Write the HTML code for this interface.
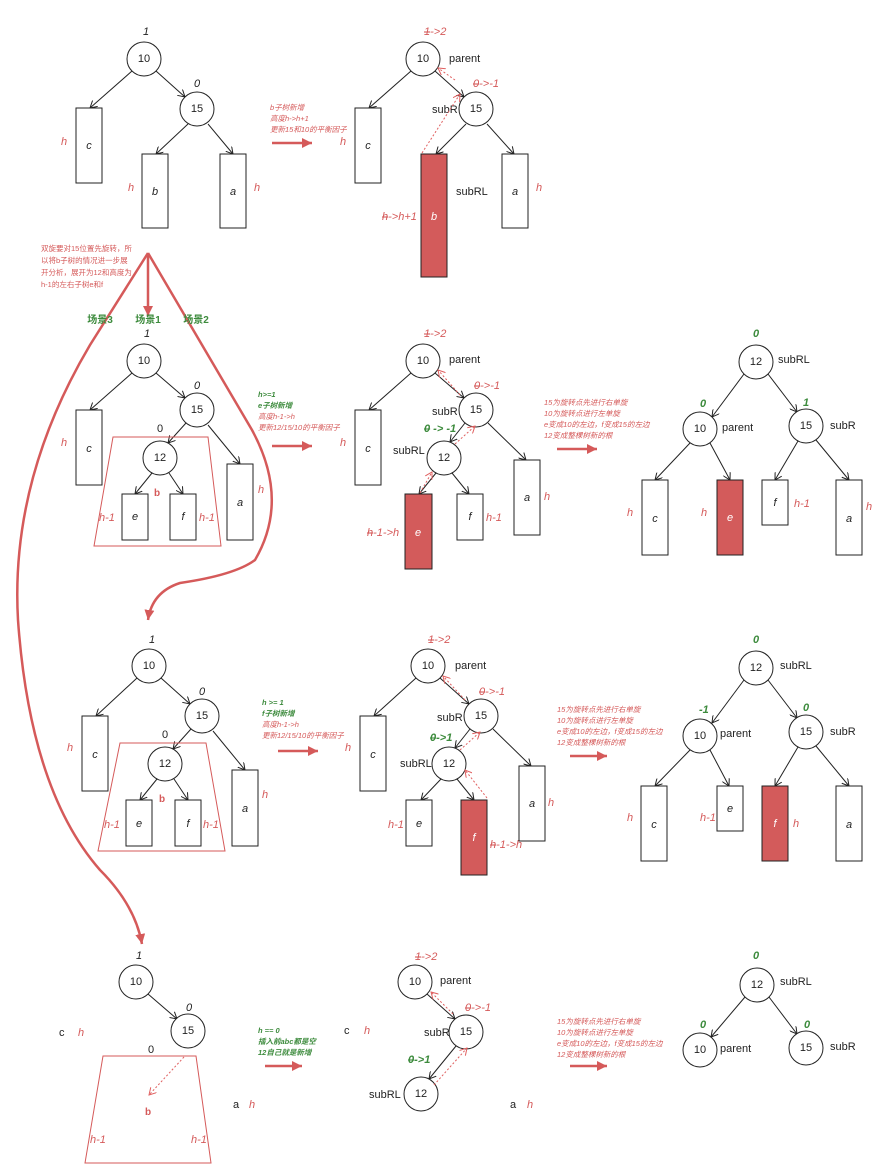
<!DOCTYPE html>
<html><head><meta charset="utf-8"><style>
html,body{margin:0;padding:0;background:#fff}
svg{display:block}
text{font-family:"Liberation Sans","Noto Sans CJK SC",sans-serif}
.n{font-size:11px;fill:#222;text-anchor:middle;dominant-baseline:central}
.l{font-size:11px;fill:#222;dominant-baseline:central}
.i{font-size:11px;fill:#222;font-style:italic;text-anchor:middle;dominant-baseline:central}
.r{font-size:11px;fill:#d55a5a;font-style:italic;dominant-baseline:central}
.g{font-size:11px;fill:#3d8b3d;font-style:italic;font-weight:bold;dominant-baseline:central}
.s{font-size:7.5px;fill:#d55a5a;font-style:italic}
.sg{font-size:7.5px;fill:#3d8b3d;font-style:italic;font-weight:bold}
.sn{font-size:7.5px;fill:#d55a5a}
.gb{font-size:10px;fill:#3d8b3d;font-weight:bold;text-anchor:middle}
circle{fill:#fff;stroke:#222;stroke-width:1}
rect{fill:#fff;stroke:#222;stroke-width:1}
rect.red{fill:#d35b5b}
.e{stroke:#222;stroke-width:1;fill:none;marker-end:url(#a)}
.d{stroke:#e06060;stroke-width:1;stroke-dasharray:2 2;fill:none;marker-end:url(#ad)}
.big{stroke:#d55a5a;stroke-width:2.5;fill:none}
.tr{fill:none;stroke:#d55a5a;stroke-width:1}
</style></head><body>
<svg width="883" height="1175" viewBox="0 0 883 1175" xmlns="http://www.w3.org/2000/svg">
<defs>
<marker id="a" markerWidth="8" markerHeight="8" refX="7" refY="4" orient="auto" markerUnits="userSpaceOnUse"><path d="M0,0 L7,4 L0,8" fill="none" stroke="#222"/></marker>
<marker id="ad" markerWidth="8" markerHeight="8" refX="7" refY="4" orient="auto" markerUnits="userSpaceOnUse"><path d="M0,0 L7,4 L0,8" fill="none" stroke="#e06060"/></marker>
<marker id="ar" markerWidth="12" markerHeight="12" refX="10" refY="5" orient="auto" markerUnits="userSpaceOnUse"><path d="M0,0 L10,5 L0,10 Z" fill="#d55a5a"/></marker>
</defs>

<!-- Row1 tree A -->
<text class="i" x="146" y="32">1</text>
<line class="e" x1="132" y1="71" x2="90" y2="108"/>
<line class="e" x1="156" y1="71" x2="185" y2="97"/>
<circle cx="144" cy="59" r="17"/><text class="n" x="144" y="59">10</text>
<text class="i" x="197" y="84">0</text>
<line class="e" x1="188" y1="124" x2="156" y2="154"/>
<line class="e" x1="208" y1="124" x2="233" y2="154"/>
<circle cx="197" cy="109" r="17"/><text class="n" x="197" y="109">15</text>
<rect x="76" y="108" width="26" height="75"/><text class="i" x="89" y="146">c</text><text class="r" x="61" y="142">h</text>
<rect x="142" y="154" width="26" height="74"/><text class="i" x="155" y="192">b</text><text class="r" x="128" y="188">h</text>
<rect x="220" y="154" width="26" height="74"/><text class="i" x="233" y="192">a</text><text class="r" x="254" y="188">h</text>
<text class="s" x="270" y="110">b子树新增</text><text class="s" x="270" y="121">高度h-&gt;h+1</text><text class="s" x="270" y="132">更新15和10的平衡因子</text>
<line class="big" x1="272" y1="143" x2="312" y2="143" marker-end="url(#ar)"/>

<!-- Row1 tree B -->
<text class="r" x="424" y="32"><tspan text-decoration="line-through">1</tspan>-&gt;2</text>
<line class="e" x1="411" y1="71" x2="369" y2="108"/>
<line class="e" x1="435" y1="71" x2="464" y2="97"/>
<circle cx="423" cy="59" r="17"/><text class="n" x="423" y="59">10</text><text class="l" x="449" y="59">parent</text>
<text class="r" x="473" y="84"><tspan text-decoration="line-through">0</tspan>-&gt;-1</text>
<line class="e" x1="466" y1="124" x2="436" y2="154"/>
<line class="e" x1="487" y1="124" x2="514" y2="154"/>
<circle cx="476" cy="109" r="17"/><text class="n" x="476" y="109">15</text><text class="l" x="432" y="110">subR</text>
<rect x="355" y="108" width="26" height="75"/><text class="i" x="368" y="146">c</text><text class="r" x="340" y="142">h</text>
<rect class="red" x="421" y="154" width="26" height="123"/><text class="i" x="434" y="217" style="fill:#fff">b</text>
<text class="r" x="382" y="217"><tspan text-decoration="line-through">h</tspan>-&gt;h+1</text>
<text class="l" x="456" y="192">subRL</text>
<rect x="502" y="154" width="26" height="74"/><text class="i" x="515" y="192">a</text><text class="r" x="536" y="188">h</text>
<line class="d" x1="422" y1="153" x2="460" y2="94"/>
<line class="d" x1="455" y1="80" x2="438" y2="68"/>

<!-- big red connectors -->
<text class="sn" x="41" y="251">双旋要对15位置先旋转，所</text>
<text class="sn" x="41" y="263">以将b子树的情况进一步展</text>
<text class="sn" x="41" y="275">开分析，展开为12和高度为</text>
<text class="sn" x="41" y="287">h-1的左右子树e和f</text>
<line class="big" x1="148" y1="253" x2="148" y2="316" marker-end="url(#ar)"/>
<path class="big" d="M148,253 L90,345 Q10,480 18,620 Q30,790 100,870 Q135,905 142,944" marker-end="url(#ar)"/>
<path class="big" d="M148,253 L252,430 Q290,500 255,560 Q235,575 180,583 Q152,592 148,620" marker-end="url(#ar)"/>
<text class="gb" x="100" y="323">场景3</text><text class="gb" x="148" y="323">场景1</text><text class="gb" x="196" y="323">场景2</text>

<!-- Row2 tree A -->
<text class="i" x="147" y="334">1</text>
<line class="e" x1="132" y1="373" x2="90" y2="410"/>
<line class="e" x1="156" y1="373" x2="185" y2="398"/>
<circle cx="144" cy="361" r="17"/><text class="n" x="144" y="361">10</text>
<text class="i" x="197" y="386">0</text>
<line class="e" x1="186" y1="423" x2="168" y2="443"/>
<line class="e" x1="208" y1="425" x2="240" y2="464"/>
<circle cx="197" cy="410" r="17"/><text class="n" x="197" y="410">15</text>
<rect x="76" y="410" width="26" height="75"/><text class="i" x="89" y="449">c</text><text class="r" x="61" y="443">h</text>
<polygon class="tr" points="113,437 208,437 221,546 94,546"/>
<text class="n" x="160" y="429">0</text>
<line class="e" x1="152" y1="473" x2="135" y2="494"/>
<line class="e" x1="169" y1="473" x2="183" y2="494"/>
<circle cx="160" cy="458" r="17"/><text class="n" x="160" y="458">12</text>
<text x="157" y="496" style="font-size:10px;fill:#d55a5a;font-weight:bold;text-anchor:middle">b</text>
<rect x="122" y="494" width="26" height="46"/><text class="i" x="135" y="517">e</text><text class="r" x="99" y="518">h-1</text>
<rect x="170" y="494" width="26" height="46"/><text class="i" x="183" y="517">f</text><text class="r" x="199" y="518">h-1</text>
<rect x="227" y="464" width="26" height="76"/><text class="i" x="240" y="503">a</text><text class="r" x="258" y="490">h</text>
<text class="sg" x="258" y="397">h&gt;=1</text><text class="sg" x="258" y="408">e子树新增</text><text class="s" x="258" y="419">高度h-1-&gt;h</text><text class="s" x="258" y="430">更新12/15/10的平衡因子</text>
<line class="big" x1="272" y1="446" x2="312" y2="446" marker-end="url(#ar)"/>

<!-- Row2 tree B -->
<text class="r" x="424" y="334"><tspan text-decoration="line-through">1</tspan>-&gt;2</text>
<line class="e" x1="411" y1="373" x2="369" y2="410"/>
<line class="e" x1="435" y1="373" x2="464" y2="398"/>
<circle cx="423" cy="361" r="17"/><text class="n" x="423" y="361">10</text><text class="l" x="449" y="360">parent</text>
<text class="r" x="474" y="386"><tspan text-decoration="line-through">0</tspan>-&gt;-1</text>
<line class="e" x1="465" y1="423" x2="450" y2="442"/>
<line class="e" x1="488" y1="423" x2="526" y2="460"/>
<circle cx="476" cy="410" r="17"/><text class="n" x="476" y="410">15</text><text class="l" x="432" y="412">subR</text>
<text class="g" x="424" y="429"><tspan text-decoration="line-through">0</tspan> -&gt; -1</text>
<line class="e" x1="436" y1="473" x2="419" y2="494"/>
<line class="e" x1="452" y1="473" x2="469" y2="494"/>
<circle cx="444" cy="458" r="17"/><text class="n" x="444" y="458">12</text><text class="l" x="393" y="451">subRL</text>
<rect x="355" y="410" width="26" height="75"/><text class="i" x="368" y="449">c</text><text class="r" x="340" y="443">h</text>
<rect class="red" x="405" y="494" width="27" height="75"/><text class="i" x="418" y="533" style="fill:#fff">e</text>
<text class="r" x="367" y="533"><tspan text-decoration="line-through">h</tspan>-1-&gt;h</text>
<rect x="457" y="494" width="26" height="46"/><text class="i" x="470" y="517">f</text><text class="r" x="486" y="518">h-1</text>
<rect x="514" y="460" width="26" height="75"/><text class="i" x="527" y="498">a</text><text class="r" x="544" y="497">h</text>
<line class="d" x1="420" y1="493" x2="432" y2="472"/>
<line class="d" x1="455" y1="444" x2="475" y2="426"/>
<line class="d" x1="460" y1="395" x2="438" y2="370"/>
<text class="s" x="544" y="405">15为旋转点先进行右单旋</text><text class="s" x="544" y="416">10为旋转点进行左单旋</text><text class="s" x="544" y="427">e变成10的左边，f变成15的左边</text><text class="s" x="544" y="438">12变成整棵树新的根</text>
<line class="big" x1="557" y1="449" x2="597" y2="449" marker-end="url(#ar)"/>

<!-- Row2 tree C -->
<text class="g" x="753" y="334">0</text>
<line class="e" x1="744" y1="374" x2="712" y2="417"/>
<line class="e" x1="768" y1="374" x2="797" y2="412"/>
<circle cx="756" cy="362" r="17"/><text class="n" x="756" y="362">12</text><text class="l" x="778" y="360">subRL</text>
<text class="g" x="700" y="404">0</text>
<line class="e" x1="690" y1="443" x2="655" y2="480"/>
<line class="e" x1="710" y1="443" x2="730" y2="480"/>
<circle cx="700" cy="429" r="17"/><text class="n" x="700" y="429">10</text><text class="l" x="722" y="428">parent</text>
<text class="g" x="803" y="403">1</text>
<line class="e" x1="798" y1="441" x2="775" y2="480"/>
<line class="e" x1="816" y1="440" x2="849" y2="480"/>
<circle cx="806" cy="426" r="17"/><text class="n" x="806" y="426">15</text><text class="l" x="830" y="426">subR</text>
<rect x="642" y="480" width="26" height="75"/><text class="i" x="655" y="519">c</text><text class="r" x="627" y="513">h</text>
<rect class="red" x="717" y="480" width="26" height="75"/><text class="i" x="730" y="518" style="fill:#fff">e</text><text class="r" x="701" y="513">h</text>
<rect x="762" y="480" width="26" height="45"/><text class="i" x="775" y="503">f</text><text class="r" x="794" y="504">h-1</text>
<rect x="836" y="480" width="26" height="75"/><text class="i" x="849" y="519">a</text><text class="r" x="866" y="507">h</text>

<!-- Row3 tree A -->
<text class="i" x="152" y="640">1</text>
<line class="e" x1="137" y1="678" x2="96" y2="716"/>
<line class="e" x1="161" y1="678" x2="190" y2="704"/>
<circle cx="149" cy="666" r="17"/><text class="n" x="149" y="666">10</text>
<text class="i" x="202" y="692">0</text>
<line class="e" x1="191" y1="729" x2="173" y2="749"/>
<line class="e" x1="213" y1="731" x2="245" y2="770"/>
<circle cx="202" cy="716" r="17"/><text class="n" x="202" y="716">15</text>
<rect x="82" y="716" width="26" height="75"/><text class="i" x="95" y="755">c</text><text class="r" x="67" y="748">h</text>
<polygon class="tr" points="120,743 206,743 225,851 98,851"/>
<text class="n" x="165" y="735">0</text>
<line class="e" x1="157" y1="779" x2="140" y2="800"/>
<line class="e" x1="174" y1="779" x2="188" y2="800"/>
<circle cx="165" cy="764" r="17"/><text class="n" x="165" y="764">12</text>
<text x="162" y="802" style="font-size:10px;fill:#d55a5a;font-weight:bold;text-anchor:middle">b</text>
<rect x="126" y="800" width="26" height="46"/><text class="i" x="139" y="824">e</text><text class="r" x="104" y="825">h-1</text>
<rect x="175" y="800" width="26" height="46"/><text class="i" x="188" y="824">f</text><text class="r" x="203" y="825">h-1</text>
<rect x="232" y="770" width="26" height="76"/><text class="i" x="245" y="809">a</text><text class="r" x="262" y="795">h</text>
<text class="sg" x="262" y="705">h &gt;= 1</text><text class="sg" x="262" y="716">f子树新增</text><text class="s" x="262" y="727">高度h-1-&gt;h</text><text class="s" x="262" y="738">更新12/15/10的平衡因子</text>
<line class="big" x1="278" y1="751" x2="318" y2="751" marker-end="url(#ar)"/>

<!-- Row3 tree B -->
<text class="r" x="428" y="640"><tspan text-decoration="line-through">1</tspan>-&gt;2</text>
<line class="e" x1="416" y1="678" x2="374" y2="716"/>
<line class="e" x1="440" y1="678" x2="469" y2="704"/>
<circle cx="428" cy="666" r="17"/><text class="n" x="428" y="666">10</text><text class="l" x="455" y="666">parent</text>
<text class="r" x="479" y="692"><tspan text-decoration="line-through">0</tspan>-&gt;-1</text>
<line class="e" x1="470" y1="729" x2="455" y2="748"/>
<line class="e" x1="493" y1="729" x2="531" y2="766"/>
<circle cx="481" cy="716" r="17"/><text class="n" x="481" y="716">15</text><text class="l" x="437" y="718">subR</text>
<text class="g" x="430" y="738"><tspan text-decoration="line-through">0</tspan>-&gt;1</text>
<line class="e" x1="441" y1="779" x2="421" y2="800"/>
<line class="e" x1="457" y1="779" x2="474" y2="800"/>
<circle cx="449" cy="764" r="17"/><text class="n" x="449" y="764">12</text><text class="l" x="400" y="764">subRL</text>
<rect x="360" y="716" width="26" height="75"/><text class="i" x="373" y="755">c</text><text class="r" x="345" y="748">h</text>
<rect x="406" y="800" width="26" height="46"/><text class="i" x="419" y="824">e</text><text class="r" x="388" y="825">h-1</text>
<rect class="red" x="461" y="800" width="26" height="75"/><text class="i" x="474" y="838" style="fill:#fff">f</text>
<text class="r" x="490" y="845"><tspan text-decoration="line-through">h</tspan>-1-&gt;h</text>
<rect x="519" y="766" width="26" height="75"/><text class="i" x="532" y="804">a</text><text class="r" x="548" y="803">h</text>
<line class="d" x1="487" y1="798" x2="465" y2="770"/>
<line class="d" x1="460" y1="750" x2="480" y2="732"/>
<line class="d" x1="465" y1="700" x2="443" y2="676"/>
<text class="s" x="557" y="712">15为旋转点先进行右单旋</text><text class="s" x="557" y="723">10为旋转点进行左单旋</text><text class="s" x="557" y="734">e变成10的左边，f变成15的左边</text><text class="s" x="557" y="745">12变成整棵树新的根</text>
<line class="big" x1="570" y1="756" x2="607" y2="756" marker-end="url(#ar)"/>

<!-- Row3 tree C -->
<text class="g" x="753" y="640">0</text>
<line class="e" x1="744" y1="680" x2="712" y2="723"/>
<line class="e" x1="768" y1="680" x2="797" y2="718"/>
<circle cx="756" cy="668" r="17"/><text class="n" x="756" y="668">12</text><text class="l" x="780" y="666">subRL</text>
<text class="g" x="699" y="710">-1</text>
<line class="e" x1="690" y1="750" x2="655" y2="786"/>
<line class="e" x1="710" y1="750" x2="729" y2="786"/>
<circle cx="700" cy="736" r="17"/><text class="n" x="700" y="736">10</text><text class="l" x="720" y="734">parent</text>
<text class="g" x="803" y="708">0</text>
<line class="e" x1="798" y1="747" x2="775" y2="786"/>
<line class="e" x1="816" y1="746" x2="849" y2="786"/>
<circle cx="806" cy="732" r="17"/><text class="n" x="806" y="732">15</text><text class="l" x="830" y="732">subR</text>
<rect x="641" y="786" width="26" height="75"/><text class="i" x="654" y="825">c</text><text class="r" x="627" y="818">h</text>
<rect x="717" y="786" width="26" height="45"/><text class="i" x="730" y="809">e</text><text class="r" x="700" y="818">h-1</text>
<rect class="red" x="762" y="786" width="26" height="75"/><text class="i" x="775" y="824" style="fill:#fff">f</text><text class="r" x="793" y="824">h</text>
<rect x="836" y="786" width="26" height="75"/><text class="i" x="849" y="825">a</text>

<!-- Row4 tree A -->
<text class="i" x="139" y="956">1</text>
<line class="e" x1="148" y1="994" x2="177" y2="1019"/>
<circle cx="136" cy="982" r="17"/><text class="n" x="136" y="982">10</text>
<text class="i" x="189" y="1008">0</text>
<circle cx="188" cy="1031" r="17"/><text class="n" x="188" y="1031">15</text>
<text class="l" x="59" y="1033">c</text><text class="r" x="78" y="1033">h</text>
<polygon class="tr" points="103,1056 196,1056 211,1163 85,1163"/>
<text class="n" x="151" y="1050">0</text>
<line class="d" x1="184" y1="1057" x2="149" y2="1095"/>
<text x="148" y="1115" style="font-size:10px;fill:#d55a5a;font-weight:bold;text-anchor:middle">b</text>
<text class="r" x="90" y="1140">h-1</text><text class="r" x="191" y="1140">h-1</text>
<text class="l" x="233" y="1105">a</text><text class="r" x="249" y="1105">h</text>
<text class="sg" x="258" y="1033">h == 0</text><text class="sg" x="258" y="1044">插入前abc都是空</text><text class="sg" x="258" y="1055">12自己就是新增</text>
<line class="big" x1="265" y1="1066" x2="302" y2="1066" marker-end="url(#ar)"/>

<!-- Row4 tree B -->
<text class="r" x="415" y="957"><tspan text-decoration="line-through">1</tspan>-&gt;2</text>
<line class="e" x1="427" y1="994" x2="455" y2="1019"/>
<circle cx="415" cy="982" r="17"/><text class="n" x="415" y="982">10</text><text class="l" x="440" y="981">parent</text>
<text class="r" x="465" y="1008"><tspan text-decoration="line-through">0</tspan>-&gt;-1</text>
<line class="e" x1="456" y1="1046" x2="429" y2="1079"/>
<circle cx="466" cy="1032" r="17"/><text class="n" x="466" y="1032">15</text><text class="l" x="424" y="1033">subR</text>
<text class="g" x="408" y="1060"><tspan text-decoration="line-through">0</tspan>-&gt;1</text>
<circle cx="421" cy="1094" r="17"/><text class="n" x="421" y="1094">12</text><text class="l" x="369" y="1095">subRL</text>
<text class="l" x="344" y="1031">c</text><text class="r" x="364" y="1031">h</text>
<text class="l" x="510" y="1105">a</text><text class="r" x="527" y="1105">h</text>
<line class="d" x1="434" y1="1085" x2="467" y2="1048"/>
<line class="d" x1="453" y1="1014" x2="431" y2="992"/>
<text class="s" x="557" y="1024">15为旋转点先进行右单旋</text><text class="s" x="557" y="1035">10为旋转点进行左单旋</text><text class="s" x="557" y="1046">e变成10的左边，f变成15的左边</text><text class="s" x="557" y="1057">12变成整棵树新的根</text>
<line class="big" x1="570" y1="1066" x2="607" y2="1066" marker-end="url(#ar)"/>

<!-- Row4 tree C -->
<text class="g" x="753" y="956">0</text>
<line class="e" x1="745" y1="997" x2="711" y2="1037"/>
<line class="e" x1="769" y1="997" x2="797" y2="1034"/>
<circle cx="757" cy="985" r="17"/><text class="n" x="757" y="985">12</text><text class="l" x="780" y="982">subRL</text>
<text class="g" x="700" y="1025">0</text>
<circle cx="700" cy="1050" r="17"/><text class="n" x="700" y="1050">10</text><text class="l" x="720" y="1049">parent</text>
<text class="g" x="804" y="1025">0</text>
<circle cx="806" cy="1048" r="17"/><text class="n" x="806" y="1048">15</text><text class="l" x="830" y="1047">subR</text>
</svg>
</body></html>
